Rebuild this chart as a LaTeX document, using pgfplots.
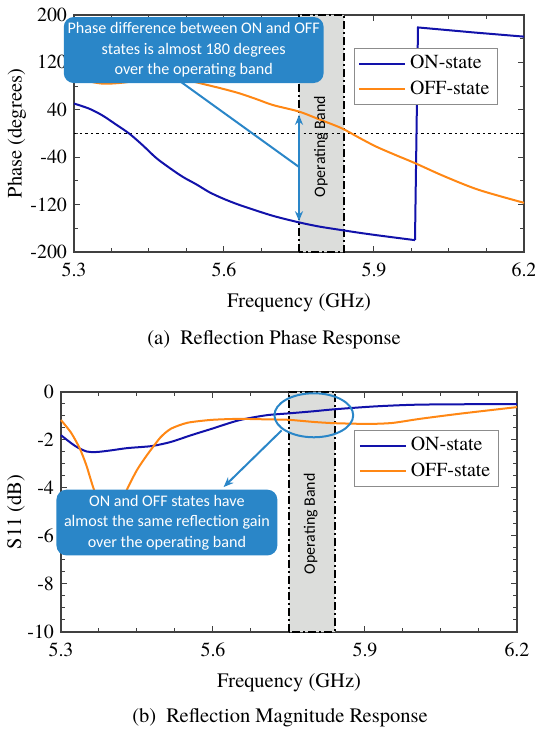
\documentclass[border=0pt]{standalone}
\usepackage{pgfplots}
\pgfplotsset{compat=1.18}
\usepackage{fontspec}
\setmainfont{texgyretermes}[Extension=.otf, UprightFont=*-regular, BoldFont=*-bold, ItalicFont=*-italic, BoldItalicFont=*-bolditalic]
\newfontfamily\callfont{Carlito}
\usetikzlibrary{arrows.meta}
\definecolor{onc}{RGB}{18,18,170}
\definecolor{offc}{RGB}{255,135,20}
\definecolor{callc}{RGB}{42,134,200}
\definecolor{bandc}{RGB}{220,221,219}
\tikzset{band/.style={black, line width=1bp, dash pattern=on 4bp off 1.5bp on 1bp off 1.5bp}}
\pgfplotsset{
  common/.style={
    scale only axis, set layers=standard, clip=false,
    xmin=5.3, xmax=6.2, xtick={5.3,5.6,5.9,6.2},
    xticklabels={5.3,5.6,5.9,6.2},
    minor x tick num=3,
    tick align=inside,
    major tick length=3bp, minor tick length=1.8bp,
    axis line style={black!75, line width=0.6bp},
    tick style={black!75, line width=0.5bp},
    ticklabel style={font=\fontsize{10}{12}\selectfont},
    xticklabel style={yshift=-1.8bp},
    /pgf/number format/assume math mode=true,
    label style={font=\fontsize{10.3}{12}\selectfont},
    xlabel={Frequency (GHz)},
    xlabel style={anchor=center},
    ylabel style={anchor=center},
    legend style={anchor=north east, draw=black!45, line width=0.5bp, fill=white,
      font=\fontsize{10}{12}\selectfont, inner xsep=2bp, inner ysep=1.5bp,
      row sep=0.5bp, cells={anchor=west}},
    legend image code/.code={\draw[#1] (0bp,0bp) -- (23bp,0bp);},
  },
}
\begin{document}
\begin{tikzpicture}
% ---------------- (a) phase ----------------
\begin{axis}[common, at={(37bp,239bp)}, anchor=south west,
  width=225bp, height=118.5bp,
  ymin=-200, ymax=200, ytick={-200,-120,-40,40,120,200}, minor y tick num=1,
  ylabel={Phase (degrees)},
  ylabel style={at={(axis description cs:-0.127,0.5)}},
  xlabel style={at={(axis description cs:0.5,-0.215)}},
  legend style={at={(0.942,0.861)}}]
\fill[bandc] (axis cs:5.75,-200) rectangle (axis cs:5.84,200);
\draw[band] (axis cs:5.75,-200) rectangle (axis cs:5.84,200);
\draw[black, line width=0.9bp, dash pattern=on 1.2bp off 1.6bp] (axis cs:5.3,0) -- (axis cs:6.2,0);
\addplot[onc, line width=1bp, smooth] coordinates {
 (5.300,50.6) (5.331,41.7) (5.357,30.4) (5.384,15.2) (5.411,-0.5) (5.438,-20.3)
 (5.464,-41) (5.491,-58) (5.518,-73.4) (5.545,-86) (5.571,-99.2) (5.598,-109.8)
 (5.625,-118.8) (5.652,-126.6) (5.698,-139) (5.750,-150) (5.790,-157)
 (5.835,-163) (5.870,-167.5) (5.904,-171.5) (5.945,-176) (5.982,-180)};
\addplot[onc, line width=1bp, forget plot] coordinates {
 (5.982,-180) (5.988,179) (6.100,170.5) (6.200,163.5)};
\addplot[offc, line width=1bp, smooth] coordinates {
 (5.300,95) (5.330,88) (5.360,84) (5.400,86) (5.450,92) (5.500,91) (5.535,88)
 (5.561,83) (5.595,76) (5.630,68) (5.665,58) (5.698,48) (5.750,37) (5.790,24)
 (5.835,9) (5.870,-7) (5.904,-22) (5.945,-37) (5.982,-50) (6.040,-72)
 (6.109,-95) (6.200,-117)};
\legend{ON-state,OFF-state}
\node[rotate=90, font=\callfont\fontsize{8}{9}\selectfont] at (axis cs:5.794,-22) {Operating Band};
\draw[callc, line width=1bp] (axis cs:5.514,87) -- (axis cs:5.75,-56.5);
\draw[callc, line width=1bp, {Stealth[length=5bp,width=4bp]}-{Stealth[length=5bp,width=4bp]}]
  (axis cs:5.75,31.5) -- (axis cs:5.75,-148);
\fill[callc, rounded corners=5bp] (axis cs:5.2795,196.6) rectangle (axis cs:5.7993,85.2);
\node[align=center, text=white, font=\callfont\fontsize{8.1}{10.3}\selectfont]
  at (axis cs:5.5394,141) {Phase difference between ON and OFF\\states is almost 180 degrees\\over the operating band};
\end{axis}
\node[font=\fontsize{10.3}{12}\selectfont] at (137bp,195bp) {(a)\ \ Reflection Phase Response};

% ---------------- (b) magnitude ----------------
\begin{axis}[common, at={(30.5bp,49bp)}, anchor=south west,
  width=228bp, height=120bp,
  ymin=-10, ymax=0, ytick={-10,-8,-6,-4,-2,0}, minor y tick num=3,
  ylabel={S11 (dB)},
  ylabel style={at={(axis description cs:-0.099,0.5)}},
  xlabel style={at={(axis description cs:0.5,-0.2125)}},
  legend style={at={(0.96,0.842)}}]
\fill[bandc] (axis cs:5.75,-10) rectangle (axis cs:5.84,0);
\draw[band] (axis cs:5.75,-10) rectangle (axis cs:5.84,0);
\addplot[onc, line width=1bp, smooth] coordinates {
 (5.300,-1.80) (5.328,-2.25) (5.351,-2.48) (5.370,-2.50) (5.396,-2.44)
 (5.430,-2.34) (5.460,-2.29) (5.483,-2.24) (5.517,-2.08) (5.557,-1.80)
 (5.598,-1.53) (5.651,-1.18) (5.705,-0.97) (5.750,-0.89) (5.800,-0.80)
 (5.840,-0.72) (5.920,-0.60) (6.000,-0.53) (6.100,-0.51) (6.200,-0.50)};
\addplot[offc, line width=1bp, smooth, tension=0.4] coordinates {
 (5.300,-1.17) (5.320,-1.70) (5.337,-2.35) (5.350,-3.05) (5.363,-3.94)
 (5.378,-4.80) (5.395,-5.40) (5.413,-4.85) (5.433,-3.94) (5.450,-3.25)
 (5.469,-2.65) (5.496,-1.90) (5.517,-1.53) (5.550,-1.28) (5.598,-1.16)
 (5.651,-1.12) (5.705,-1.14) (5.750,-1.16) (5.800,-1.25) (5.840,-1.30)
 (5.907,-1.33) (5.954,-1.29) (6.008,-1.12) (6.089,-0.90) (6.200,-0.63)};
\legend{ON-state,OFF-state}
\node[rotate=90, font=\callfont\fontsize{8}{9}\selectfont] at (axis cs:5.793,-5.49) {Operating Band};
\draw[callc, line width=1bp] (axis cs:5.799,-0.97) ellipse [x radius=19.7bp, y radius=11bp];
\draw[callc, line width=1bp, -{Stealth[length=5bp,width=4bp]}] (axis cs:5.7355,-1.6) -- (axis cs:5.621,-3.96);
\fill[callc, rounded corners=5bp] (axis cs:5.291,-4.07) rectangle (axis cs:5.727,-6.81);
\node[align=center, text=white, font=\callfont\fontsize{8.1}{10.3}\selectfont]
  at (axis cs:5.509,-5.44) {ON and OFF states have\\almost the same reflection gain\\over the operating band};
\end{axis}
\node[font=\fontsize{10.3}{12}\selectfont] at (140bp,6bp) {(b)\ \ Reflection Magnitude Response};
\pgfresetboundingbox
\path (0,0) rectangle (267.5bp,365bp);
\end{tikzpicture}
\end{document}
